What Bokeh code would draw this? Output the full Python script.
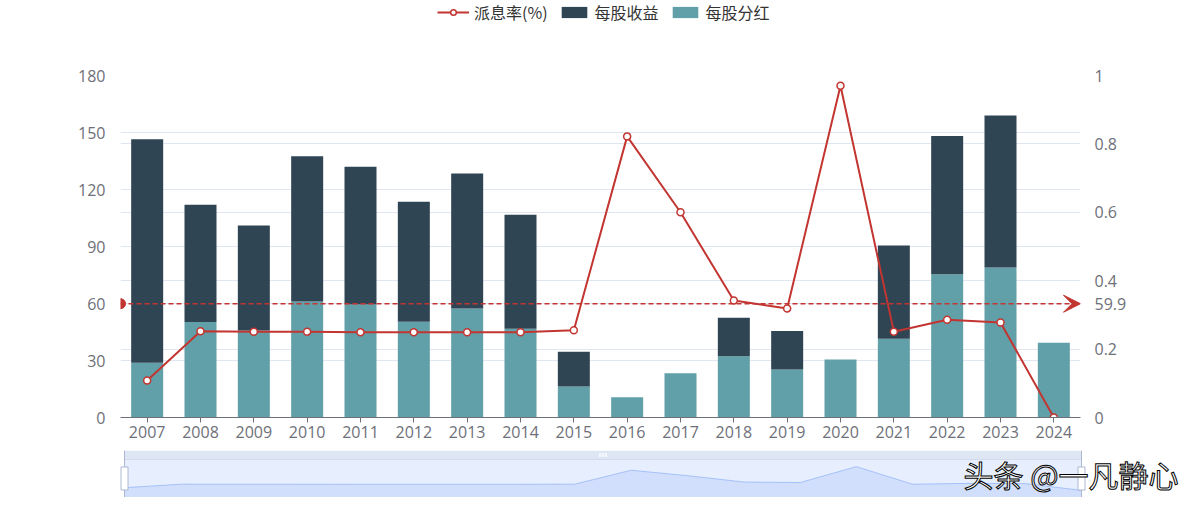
import numpy as np
from bokeh.plotting import figure
from bokeh.models import (Range1d, LinearAxis, FixedTicker, Grid, CustomJSTickFormatter,
                          Legend, LegendItem, Span, Arrow, VeeHead, Label, ColumnDataSource)
from bokeh.embed import file_html
from bokeh.resources import INLINE

# ---------------- data ----------------
years = ["2007", "2008", "2009", "2010", "2011", "2012", "2013", "2014", "2015",
         "2016", "2017", "2018", "2019", "2020", "2021", "2022", "2023", "2024"]
dividend = [28.8, 50.2, 45.8, 61.0, 59.5, 50.4, 57.4, 46.7, 16.3,
            10.7, 23.3, 32.3, 25.3, 30.5, 41.4, 75.4, 79.0, 39.3]          # 每股分红
eps = [117.6, 61.8, 55.3, 76.5, 72.5, 63.2, 71.0, 60.0, 18.3,
       None, None, 20.2, 20.2, None, 49.1, 72.8, 79.9, None]                 # 每股收益
payout = [0.108, 0.252, 0.251, 0.251, 0.249, 0.249, 0.249, 0.249, 0.255,
          0.822, 0.600, 0.342, 0.319, 0.970, 0.251, 0.286, 0.278, 0.0]      # 派息率(%)
left_ticks = [0, 30, 60, 90, 120, 150, 180]
right_ticks = [0, 0.2, 0.4, 0.6, 0.8, 1]
series_names = ["派息率(%)", "每股收益", "每股分红"]
watermark = "头条 @一凡静心"

FONT = "Noto Sans CJK SC"
NUM_FONT = "Open Sans"
RED, DARK, TEAL = "#c23531", "#2f4554", "#61a0a8"
AXIS_C, GRID_C = "#6E7079", "#E0E6F1"

n = len(years)
idx = np.arange(n)
div = np.array(dividend, dtype=float)
e = np.array([np.nan if v is None else v for v in eps], dtype=float)
top = div + e
mean_eps = float(np.nanmean(e))

src = ColumnDataSource(dict(x=idx, div=div, top=top, payout=payout))

W = 1192
LINE_STYLE = dict(line_color=RED, line_width=2)
PT_STYLE = dict(size=7, fill_color="white", line_color=RED, line_width=1.5)

# ---------------- legend strip ----------------
LH = 30
lf = figure(width=W, height=LH, x_range=Range1d(0, W), y_range=Range1d(0, LH),
            output_backend="svg", toolbar_location=None,
            x_axis_location=None, y_axis_location=None,
            min_border_left=0, min_border_right=0, min_border_top=0, min_border_bottom=0)
lf.grid.visible = False
lf.outline_line_color = None
# legend swatches (kept off-canvas, they only provide the legend glyph styles)
off = [-1000]
lg_line = lf.line(x=off, y=off, **LINE_STYLE)
lg_pts = lf.scatter(x=off, y=off, **PT_STYLE)
lg_eps = lf.vbar(x=off, top=off, width=0.6, fill_color=DARK, line_color=None)
lg_div = lf.vbar(x=off, top=off, width=0.6, fill_color=TEAL, line_color=None)
legend = Legend(items=[LegendItem(label=series_names[0], renderers=[lg_line, lg_pts]),
                       LegendItem(label=series_names[1], renderers=[lg_eps]),
                       LegendItem(label=series_names[2], renderers=[lg_div])],
                orientation="horizontal", location=(437, 6),
                glyph_width=32, glyph_height=14, label_standoff=5, spacing=10,
                padding=0, margin=0, border_line_alpha=0, background_fill_alpha=0,
                label_text_font_size="16px", label_text_color="#333333", label_text_font=FONT)
lf.add_layout(legend)

# ---------------- main chart ----------------
p = figure(width=W, height=450 - LH, x_range=Range1d(-0.5, n - 0.5),
           y_range=Range1d(left_ticks[0], left_ticks[-1]),
           output_backend="svg", toolbar_location=None,
           min_border_left=120, min_border_right=112, min_border_top=75 - LH, min_border_bottom=33)
p.outline_line_color = None
p.extra_y_ranges = {"right": Range1d(right_ticks[0], right_ticks[-1])}

xa = p.xaxis[0]
xa.ticker = FixedTicker(ticks=list(idx))
xa.major_label_overrides = {int(i): y for i, y in zip(idx, years)}
xa.axis_line_color = AXIS_C
xa.major_tick_line_color = AXIS_C
xa.major_tick_in = 0
xa.major_tick_out = 5
xa.minor_tick_line_color = None
xa.major_label_text_color = AXIS_C
xa.major_label_text_font_size = "16px"
xa.major_label_text_font = NUM_FONT
xa.major_label_standoff = 3

ya = p.yaxis[0]
ya.ticker = FixedTicker(ticks=left_ticks)
ya.axis_line_color = None
ya.major_tick_line_color = None
ya.minor_tick_line_color = None
ya.major_label_text_color = AXIS_C
ya.major_label_text_font_size = "16px"
ya.major_label_text_font = NUM_FONT
ya.major_label_standoff = 9

# right axis: payout ticks plus the value of the average mark line of 每股收益
scale_lr = (right_ticks[-1] - right_ticks[0]) / (left_ticks[-1] - left_ticks[0])
mean_r = mean_eps * scale_lr
ra = LinearAxis(y_range_name="right", ticker=FixedTicker(ticks=right_ticks + [mean_r]),
                formatter=CustomJSTickFormatter(
                    args=dict(m=mean_r, lab=f"{mean_eps:.1f}"),
                    code="return Math.abs(tick - m) < 1e-9 ? lab : String(Math.round(tick * 10) / 10);"))
ra.axis_line_color = None
ra.major_tick_line_color = None
ra.minor_tick_line_color = None
ra.major_label_text_color = AXIS_C
ra.major_label_text_font_size = "16px"
ra.major_label_text_font = NUM_FONT
ra.major_label_standoff = 8
p.add_layout(ra, "right")

p.xgrid.visible = False
p.ygrid.ticker = FixedTicker(ticks=left_ticks)
p.ygrid.grid_line_color = GRID_C
p.add_layout(Grid(dimension=1, ticker=FixedTicker(ticks=right_ticks), y_range_name="right",
                  grid_line_color=GRID_C))

r_div = p.vbar(x="x", bottom=0, top="div", width=0.6, source=src,
               fill_color=TEAL, line_color=None)
r_eps = p.vbar(x="x", bottom="div", top="top", width=0.6, source=src,
               fill_color=DARK, line_color=None)

p.add_layout(Span(location=mean_eps, dimension="width", line_color=RED,
                  line_dash="5 3", line_width=1.5))
p.scatter(x=[p.x_range.start], y=[mean_eps], size=10, color=RED)
p.add_layout(Arrow(end=VeeHead(size=17, fill_color=RED, line_color=RED, line_width=1),
                   x_start=p.x_range.end - 0.3, x_end=p.x_range.end,
                   y_start=mean_eps, y_end=mean_eps, line_alpha=0))

r_line = p.line(x="x", y="payout", source=src, y_range_name="right", **LINE_STYLE)
r_pts = p.scatter(x="x", y="payout", source=src, y_range_name="right", **PT_STYLE)

# ---------------- data-zoom slider ----------------
pmin, pmax = min(payout), max(payout)
span = pmax - pmin
lo, hi = pmin - 0.3 * span, pmax + 0.3 * span
body_px, band_px = 38, 9
ytop = hi + band_px * (hi - lo) / body_px
s_px = 957 / (n - 1)
s = figure(width=W, height=body_px + band_px,
           x_range=Range1d(-16 / s_px, (n - 1) + 111 / s_px), y_range=Range1d(lo, ytop),
           output_backend="svg", toolbar_location=None,
           x_axis_location=None, y_axis_location=None,
           min_border_left=108, min_border_right=0, min_border_top=0, min_border_bottom=0)
s.grid.visible = False
s.outline_line_color = None

s.quad(left=0, right=n - 1, bottom=hi, top=ytop, fill_color="#D2DBEE", fill_alpha=0.7, line_color=None)
s.quad(left=0, right=n - 1, bottom=lo, top=hi, fill_color="#87afff", fill_alpha=0.2,
       line_color="#d2dbee", line_width=1)
s.varea(x=idx, y1=lo, y2=payout, fill_color="#8fb0f7", fill_alpha=0.25)
s.line(x=idx, y=payout, line_color="#8fb0f7", line_width=1, line_alpha=0.7)
c = (n - 1) / 2
s.rect(x=[c - 3 / s_px, c, c + 3 / s_px], y=(hi + ytop) / 2, width=1.5, height=4,
       width_units="screen", height_units="screen", fill_color="white", line_color=None)
for hx in (0, n - 1):
    s.segment(x0=hx, x1=hx, y0=lo, y1=ytop, line_color="#ACB8D1", line_width=1)
    s.rect(x=hx, y=(lo + hi) / 2, width=7, height=23, width_units="screen", height_units="screen",
           fill_color="white", line_color="#ACB8D1", line_width=1)

s.add_layout(Label(x=855, y=24, x_units="screen", y_units="screen", text=watermark,
                   text_font_size="30px", text_color="white", text_outline_color="black",
                   text_baseline="middle", text_font=FONT))

open("out.html", "w").write(file_html((lf, p, s), INLINE))
